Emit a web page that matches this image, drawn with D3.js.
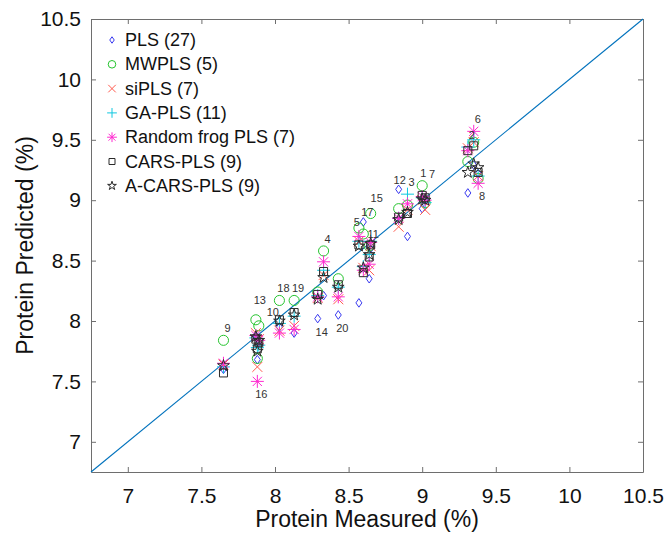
<!DOCTYPE html>
<html>
<head>
<meta charset="utf-8">
<script src="https://cdn.jsdelivr.net/npm/d3@7"></script>
<style>
  body { margin: 0; background: #fff; }
  text { font-family: "Liberation Sans", Arial, sans-serif; }
</style>
</head>
<body>
<div id="chart"></div>
<script>
// --------------------------------------
//  Data (sample 1..20)
// --------------------------------------

const sampleIds = d3.range(1, 21);
const measured = [9.00, 9.31, 8.90, 8.33, 8.57, 9.35, 9.02, 9.38, 7.65, 7.89, 8.64, 8.84, 7.87, 8.29, 8.65, 7.88, 8.60, 8.03, 8.13, 8.43];

const plsPred   = [8.93, 9.06, 8.70, 8.21, 8.15, 9.29, 9.00, 9.22, 7.60, 7.83, 8.35, 9.09, 7.88, 8.02, 8.60, 7.68, 8.82, 7.95, 7.90, 8.05];
const mwplsPred = [9.12, 9.32, 8.96, 8.58, 8.77, 9.48, 8.98, 9.18, 7.84, 7.96, 8.62, 8.93, 8.01, 8.24, 8.89, 7.69, 8.72, 8.17, 8.17, 8.35];
const siplsPred = [9.00, 9.43, 8.92, 8.38, 8.66, 9.48, 8.92, 9.20, 7.64, 7.85, 8.42, 8.78, 7.90, 8.19, 8.62, 7.62, 8.44, 7.92, 7.96, 8.18];
const gaPred    = [9.02, 9.44, 9.05, 8.42, 8.66, 9.50, 8.98, 9.20, 7.62, 7.80, 8.55, 8.85, 7.86, 8.21, 8.66, 7.78, 8.45, 7.98, 8.04, 8.28];
const rfPred    = [9.03, 9.41, 8.97, 8.49, 8.70, 9.57, 9.00, 9.14, 7.65, 7.84, 8.47, 8.85, 7.88, 8.20, 8.65, 7.50, 8.42, 7.90, 7.93, 8.20];
const carsPred  = [9.04, 9.41, 8.89, 8.41, 8.63, 9.45, 9.02, 9.23, 7.57, 7.82, 8.53, 8.86, 7.85, 8.22, 8.63, 7.77, 8.40, 8.01, 8.07, 8.30];
const acarsPred = [9.01, 9.23, 8.90, 8.36, 8.62, 9.30, 9.00, 9.27, 7.63, 7.84, 8.55, 8.84, 7.87, 8.18, 8.64, 7.75, 8.44, 8.00, 8.05, 8.28];

const modelNames = ["PLS (27)", "MWPLS (5)", "siPLS (7)", "GA-PLS (11)", "Random frog PLS (7)", "CARS-PLS (9)", "A-CARS-PLS (9)"];
const modelPreds = [plsPred, mwplsPred, siplsPred, gaPred, rfPred, carsPred, acarsPred];

// label side for each sample number: "up" = over highest point, "down" = under lowest
const labelSide = ["up", "up", "up", "up", "up", "up", "up", "down", "up", "up", "up", "up", "up", "down", "up", "down", "up", "up", "up", "down"];

const tickValues = [7, 7.5, 8, 8.5, 9, 9.5, 10, 10.5];

// --------------------------------------
//  Margin and canvas
// --------------------------------------

const width = 666;
const height = 537;
const margin = {top: 19, right: 23, bottom: 65, left: 91};
const innerwidth = width - margin.left - margin.right;
const innerheight = height - margin.top - margin.bottom;

const svg = d3.select("#chart")
  .append("svg")
    .attr("width", width)
    .attr("height", height);

const innerChart = svg.append("g")
    .attr("transform", `translate(${margin.left}, ${margin.top})`);

// --------------------------------------
//  Scales
// --------------------------------------

const x = d3.scaleLinear().domain([6.75, 10.5]).range([0, innerwidth]);
const y = d3.scaleLinear().domain([6.75, 10.5]).range([innerheight, 0]);

// --------------------------------------
//  Axes (MATLAB style box, ticks inside)
// --------------------------------------

const axisColor = "#6e6e6e";
const fmt = d => d3.format("")(d);

innerChart.append("g")
    .attr("class", "x-axis")
    .attr("transform", `translate(0, ${innerheight})`)
    .call(d3.axisBottom(x).tickValues(tickValues).tickSizeInner(-5).tickSizeOuter(0).tickPadding(16).tickFormat(fmt));

innerChart.append("g")
    .attr("class", "x-axis-top")
    .call(d3.axisTop(x).tickValues(tickValues).tickSizeInner(-5).tickSizeOuter(0).tickFormat(""));

innerChart.append("g")
    .attr("class", "y-axis")
    .call(d3.axisLeft(y).tickValues(tickValues).tickSizeInner(-5).tickSizeOuter(0).tickPadding(10).tickFormat(fmt));

innerChart.append("g")
    .attr("class", "y-axis-right")
    .attr("transform", `translate(${innerwidth}, 0)`)
    .call(d3.axisRight(y).tickValues(tickValues).tickSizeInner(-5).tickSizeOuter(0).tickFormat(""));

innerChart.selectAll(".domain, .tick line").attr("stroke", axisColor);
innerChart.selectAll(".tick text")
    .attr("fill", "#111")
    .style("font-size", "21px");

svg.append("text")
    .attr("x", margin.left + innerwidth / 2)
    .attr("y", 527)
    .attr("text-anchor", "middle")
    .style("font-size", "23px")
    .attr("fill", "#111")
    .text("Protein Measured (%)");

svg.append("text")
    .attr("transform", `translate(33, ${margin.top + innerheight / 2}) rotate(-90)`)
    .attr("text-anchor", "middle")
    .style("font-size", "23px")
    .attr("fill", "#111")
    .text("Protein Predicted (%)");

// --------------------------------------
//  1:1 line
// --------------------------------------

innerChart.append("line")
    .attr("x1", x(6.75)).attr("y1", y(6.75))
    .attr("x2", x(10.5)).attr("y2", y(10.5))
    .attr("stroke", "#0072BD")
    .attr("stroke-width", 1.1);

// --------------------------------------
//  Marker shapes
// --------------------------------------

const markerPath = {
  diamond: s => `M0,${-4.3*s}L${3*s},0L0,${4.3*s}L${-3*s},0Z`,
  circle: s => d3.symbol(d3.symbolCircle, 80 * s * s)(),
  cross: s => `M${-5*s},${-5*s}L${5*s},${5*s}M${5*s},${-5*s}L${-5*s},${5*s}`,
  plus: s => `M${-6.5*s},0L${6.5*s},0M0,${-6.5*s}L0,${6.5*s}`,
  asterisk: s => `M${-6.5*s},0L${6.5*s},0M0,${-6.5*s}L0,${6.5*s}M${-4.6*s},${-4.6*s}L${4.6*s},${4.6*s}M${4.6*s},${-4.6*s}L${-4.6*s},${4.6*s}`,
  square: s => `M${-4*s},${-4*s}H${4*s}V${4*s}H${-4*s}Z`,
  star: s => d3.symbol(d3.symbolStar, 42 * s * s)()
};

const styles = [
  {shape: "diamond", color: "#3a3af0"},
  {shape: "circle", color: "#25c42e"},
  {shape: "cross", color: "#ff5a4e"},
  {shape: "plus", color: "#10c8e0"},
  {shape: "asterisk", color: "#ff2ad0"},
  {shape: "square", color: "#2a2a2a"},
  {shape: "star", color: "#2a2a2a"}
];

// --------------------------------------
//  Data drawing
// --------------------------------------

modelPreds.forEach((pred, m) => {
  const st = styles[m];
  innerChart.append("g")
    .selectAll("path")
    .data(sampleIds.map((id, i) => ({id, xm: measured[i], yp: pred[i]})))
    .join("path")
      .attr("transform", d => `translate(${x(d.xm)}, ${y(d.yp)})`)
      .attr("d", markerPath[st.shape](1))
      .attr("fill", "none")
      .attr("stroke", st.color)
      .attr("stroke-width", 1);
});

// sample number labels, nudged a little where they crowd
const nudge = {1: [-3, -1], 7: [3, -12], 10: [10, -2], 13: [0, -8], 12: [-3, 3], 15: [2, -3], 17: [0, 2], 5: [-6, 6]};

innerChart.append("g")
  .selectAll("text")
  .data(sampleIds)
  .join("text")
    .attr("x", d => x(measured[d - 1]) + 4 + (nudge[d] ? nudge[d][0] : 0))
    .attr("y", d => {
      const vals = modelPreds.map(p => p[d - 1]);
      const base = labelSide[d - 1] === "up" ? y(d3.max(vals)) - 12 : y(d3.min(vals)) + 13;
      return base + (nudge[d] ? nudge[d][1] : 0);
    })
    .attr("text-anchor", "middle")
    .attr("dominant-baseline", "central")
    .style("font-size", "11px")
    .attr("fill", "#333")
    .text(d => d);

// --------------------------------------
//  Legend
// --------------------------------------

const legend = svg.append("g")
    .attr("transform", "translate(112, 40)");

const rows = legend.selectAll("g")
  .data(modelNames)
  .join("g")
    .attr("transform", (d, i) => `translate(0, ${i * 24.3})`);

rows.append("path")
    .attr("d", (d, i) => markerPath[styles[i].shape](0.75))
    .attr("fill", "none")
    .attr("stroke", (d, i) => styles[i].color)
    .attr("stroke-width", 1);

rows.append("text")
    .attr("x", 13)
    .attr("dominant-baseline", "central")
    .style("font-size", "18px")
    .attr("fill", "#111")
    .text(d => d);
</script>
</body>
</html>
